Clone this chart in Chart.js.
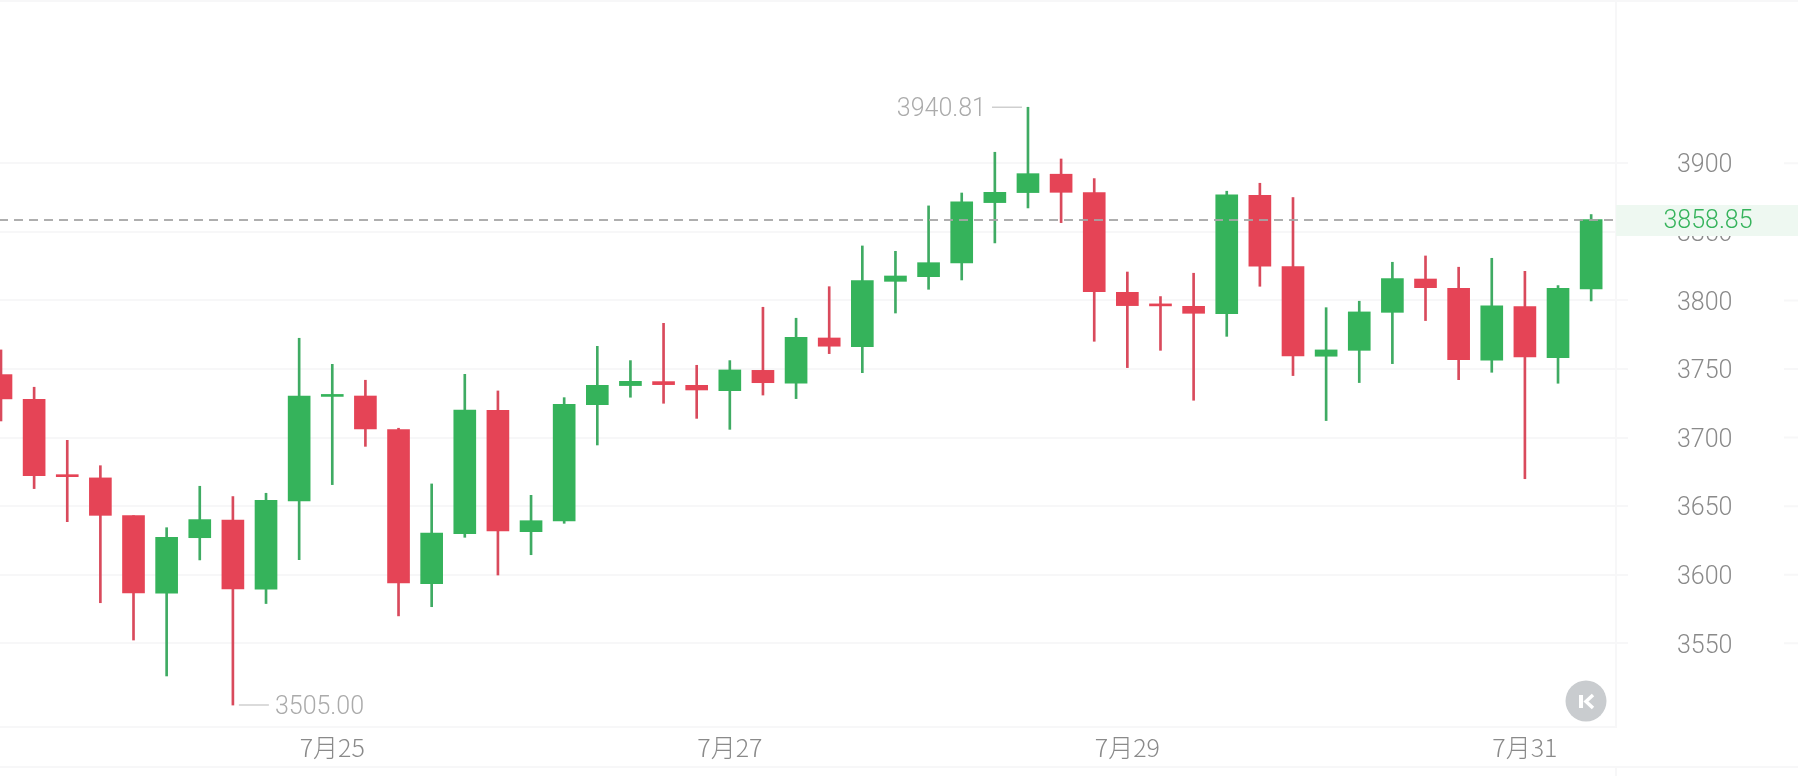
<!DOCTYPE html>
<html lang="zh">
<head>
<meta charset="utf-8">
<title>K线图</title>
<style>
    html, body { margin: 0; padding: 0; background: #ffffff; overflow: hidden; }
    canvas { display: block; }
</style>
<script src="https://cdn.jsdelivr.net/npm/chart.js@4"></script>
</head>
<body>
<canvas id="_dm-klineChart" width="1798" height="776"></canvas>
<script>
// Candle data (4 hour candles)
// ----------------------------------------------
const categories = [
    '7月23 08:00', '7月23 12:00', '7月23 16:00', '7月23 20:00',
    '7月24 00:00', '7月24 04:00', '7月24 08:00', '7月24 12:00', '7月24 16:00', '7月24 20:00',
    '7月25 00:00', '7月25 04:00', '7月25 08:00', '7月25 12:00', '7月25 16:00', '7月25 20:00',
    '7月26 00:00', '7月26 04:00', '7月26 08:00', '7月26 12:00', '7月26 16:00', '7月26 20:00',
    '7月27 00:00', '7月27 04:00', '7月27 08:00', '7月27 12:00', '7月27 16:00', '7月27 20:00',
    '7月28 00:00', '7月28 04:00', '7月28 08:00', '7月28 12:00', '7月28 16:00', '7月28 20:00',
    '7月29 00:00', '7月29 04:00', '7月29 08:00', '7月29 12:00', '7月29 16:00', '7月29 20:00',
    '7月30 00:00', '7月30 04:00', '7月30 08:00', '7月30 12:00', '7月30 16:00', '7月30 20:00',
    '7月31 00:00', '7月31 04:00', '7月31 08:00'
];
const opens = [
    3745.9, 3727.9, 3672.0, 3670.6, 3643.1, 3586.5, 3627.0, 3639.9, 3589.4, 3653.8,
    3730.0, 3730.3, 3705.8, 3593.5, 3630.0, 3719.9, 3631.4, 3639.2, 3724.0, 3737.9,
    3740.8, 3738.1, 3734.2, 3749.0, 3739.6, 3772.6, 3766.3, 3813.9, 3817.3, 3827.3,
    3871.3, 3878.6, 3892.0, 3878.6, 3805.9, 3797.0, 3795.7, 3790.4, 3876.6, 3824.6,
    3759.3, 3763.6, 3791.3, 3815.6, 3808.8, 3756.4, 3795.5, 3758.3, 3808.4
];
const highs = [
    3763.9, 3736.7, 3698.0, 3679.5, 3643.1, 3634.3, 3664.5, 3657.0, 3659.4, 3772.4,
    3753.4, 3741.8, 3706.8, 3666.2, 3746.1, 3734.0, 3657.9, 3729.1, 3766.5, 3756.1,
    3783.3, 3752.7, 3756.1, 3795.0, 3787.0, 3810.0, 3839.7, 3835.8, 3868.9, 3878.3,
    3908.0, 3940.81, 3903.1, 3888.8, 3820.7, 3802.8, 3819.8, 3879.6, 3885.4, 3875.0,
    3794.7, 3799.4, 3827.8, 3832.4, 3824.2, 3830.7, 3821.2, 3810.8, 3862.6
];
const lows = [
    3712.1, 3662.8, 3638.7, 3579.6, 3552.4, 3526.2, 3610.8, 3505.0, 3579.0, 3611.0,
    3665.7, 3693.6, 3570.0, 3576.7, 3627.3, 3599.8, 3614.6, 3637.5, 3694.6, 3729.4,
    3725.0, 3714.0, 3706.0, 3731.0, 3728.4, 3761.2, 3747.3, 3790.8, 3808.1, 3814.9,
    3841.9, 3867.4, 3856.7, 3770.2, 3751.0, 3763.6, 3727.2, 3773.8, 3810.3, 3745.2,
    3712.4, 3740.1, 3753.9, 3785.3, 3742.2, 3747.6, 3670.0, 3739.6, 3799.6
];
const closes = [
    3728.2, 3672.3, 3671.5, 3643.3, 3586.7, 3627.3, 3640.2, 3589.6, 3654.3, 3730.3,
    3731.0, 3706.3, 3594.0, 3630.4, 3720.1, 3632.0, 3639.4, 3724.2, 3738.1, 3741.0,
    3738.6, 3734.7, 3749.3, 3740.0, 3773.1, 3766.6, 3814.4, 3817.8, 3827.5, 3871.8,
    3878.8, 3892.4, 3878.8, 3806.4, 3796.2, 3796.0, 3790.6, 3876.9, 3824.9, 3759.5,
    3763.9, 3791.6, 3815.9, 3809.3, 3756.8, 3796.0, 3758.8, 3808.8, 3858.85
];
const priceTicks = [3550, 3600, 3650, 3700, 3750, 3800, 3850, 3900];
const dateLabels = ['7月25', '7月27', '7月29', '7月31'];



// Colors
// ----------------------------------------------
const upColor    = '#35b35b';
const downColor  = '#e54456';
const upWick     = '#3fab63';
const downWick   = '#d94a5c';
const gridColor  = '#f7f7f8';
const labelColor = '#8a8a8a';
const noteColor  = '#ababab';
const isUp = (i) => closes[i] >= opens[i];



// Everything the axes do not draw: last price, high / low notes, K button
// ----------------------------------------------
const klineDecor = {
    id: 'klineDecor',
    afterDraw(chart) {
        const { ctx, width, height, chartArea: area, scales: { x, y } } = chart;
        const last = closes[closes.length - 1];
        const lastY = Math.round(y.getPixelForValue(last));

        ctx.save();

        // Grid lines carry on to the right of the price labels
        ctx.strokeStyle = gridColor;
        ctx.lineWidth = 2;
        ctx.beginPath();
        priceTicks.forEach((tick) => {
            ctx.moveTo(1784, y.getPixelForValue(tick));
            ctx.lineTo(width, y.getPixelForValue(tick));
        });
        ctx.moveTo(0, 1);
        ctx.lineTo(width, 1);
        ctx.moveTo(0, 767);
        ctx.lineTo(width, 767);
        ctx.moveTo(area.right, 767);
        ctx.lineTo(area.right, height);
        ctx.stroke();

        // Last price badge, it hides part of the 3850 label
        ctx.fillStyle = '#eef8f1';
        ctx.fillRect(area.right, lastY - 15, width - area.right, 31);
        ctx.fillStyle = upColor;
        ctx.font = '300 25px Roboto';
        ctx.textAlign = 'center';
        ctx.textBaseline = 'middle';
        ctx.fillText(last.toFixed(2), 1708, lastY + 2);

        // Last price line
        ctx.strokeStyle = 'rgba(165, 165, 165, .9)';
        ctx.setLineDash([9, 6]);
        ctx.lineDashOffset = 1;
        ctx.beginPath();
        ctx.moveTo(area.left, lastY);
        ctx.lineTo(area.right, lastY);
        ctx.stroke();
        ctx.setLineDash([]);

        // High and low notes
        const high = Math.max(...highs);
        const low = Math.min(...lows);
        const highX = x.getPixelForValue(highs.indexOf(high));
        const highY = y.getPixelForValue(high);
        const lowX = x.getPixelForValue(lows.indexOf(low));
        const lowY = y.getPixelForValue(low);
        ctx.strokeStyle = '#cfcfcf';
        ctx.lineWidth = 1.5;
        ctx.beginPath();
        ctx.moveTo(highX - 6, highY);
        ctx.lineTo(highX - 36, highY);
        ctx.moveTo(lowX + 6, lowY);
        ctx.lineTo(lowX + 36, lowY);
        ctx.stroke();
        ctx.fillStyle = noteColor;
        ctx.textAlign = 'right';
        ctx.fillText(high.toFixed(2), highX - 42, highY + 2);
        ctx.textAlign = 'left';
        ctx.fillText(low.toFixed(2), lowX + 42, lowY + 3);

        // K button
        ctx.fillStyle = '#c9cccf';
        ctx.beginPath();
        ctx.arc(1586, 701, 20.5, 0, Math.PI * 2);
        ctx.fill();
        ctx.fillStyle = '#ffffff';
        ctx.fillRect(1579, 695, 4, 13);
        ctx.strokeStyle = '#ffffff';
        ctx.lineWidth = 3.5;
        ctx.beginPath();
        ctx.moveTo(1593, 695);
        ctx.lineTo(1586, 701.5);
        ctx.lineTo(1593, 708);
        ctx.stroke();

        ctx.restore();
    }
};



// K line chart
// ----------------------------------------------
const klineChart = new Chart(
    document.getElementById('_dm-klineChart'), {
        type: 'bar',
        plugins: [klineDecor],
        data: {
            datasets: [
                {
                    label: 'wick',
                    data: categories.map((c, i) => ({ x: i, y: [lows[i], highs[i]] })),
                    backgroundColor: (ctx) => isUp(ctx.dataIndex) ? upWick : downWick,
                    barThickness: 2,
                    grouped: false,
                    order: 2
                },
                {
                    label: 'body',
                    data: categories.map((c, i) => ({ x: i, y: [opens[i], closes[i]] })),
                    backgroundColor: (ctx) => isUp(ctx.dataIndex) ? upColor : downColor,
                    barThickness: 22,
                    minBarLength: 2,
                    grouped: false,
                    order: 1
                }
            ]
        },
        options: {
            responsive: false,
            animation: false,
            layout: { padding: 0 },
            plugins: {
                legend: { display: false },
                title: { display: false },
                tooltip: { enabled: false }
            },
            scales: {
                x: {
                    type: 'linear',
                    offset: false,
                    min: -0.03,
                    max: 48.75,
                    afterFit: (scale) => {
                        scale.height = 49;
                        scale.paddingLeft = 0;
                        scale.paddingRight = 0;
                    },
                    afterBuildTicks: (scale) => {
                        scale.ticks = dateLabels.map((label) => ({ value: categories.indexOf(label + ' 00:00') }));
                    },
                    grid: { display: false, drawTicks: false },
                    border: { display: true, color: gridColor, width: 2 },
                    ticks: {
                        autoSkip: false,
                        maxRotation: 0,
                        minRotation: 0,
                        padding: 5,
                        color: labelColor,
                        font: { size: 25, family: '"Noto Sans CJK SC"', weight: 300 },
                        callback: (value) => categories[value].split(' ')[0]
                    }
                },
                y: {
                    position: 'right',
                    min: 3489,
                    max: 4019,
                    afterFit: (scale) => {
                        scale.width = 182;
                        scale.paddingTop = 0;
                        scale.paddingBottom = 0;
                    },
                    afterBuildTicks: (scale) => {
                        scale.ticks = priceTicks.map((value) => ({ value }));
                    },
                    grid: { color: gridColor, lineWidth: 2, tickLength: 12 },
                    border: { display: true, color: gridColor, width: 2 },
                    ticks: {
                        crossAlign: 'center',
                        padding: 49,
                        labelOffset: 3,
                        color: labelColor,
                        font: { size: 25, family: 'Roboto', weight: 300 },
                        callback: (value) => String(value)
                    }
                }
            }
        }
    }
);
</script>
</body>
</html>
